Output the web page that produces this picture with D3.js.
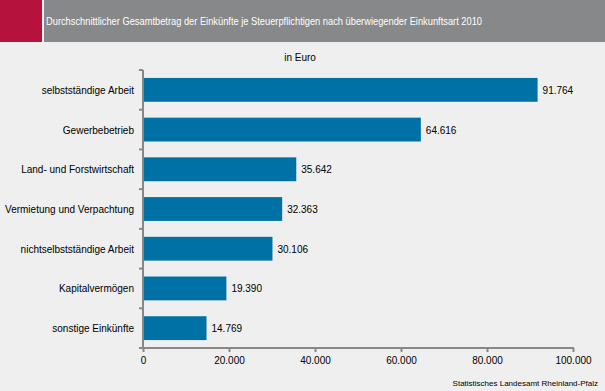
<!DOCTYPE html>
<html><head><meta charset="utf-8">
<script src="https://cdn.jsdelivr.net/npm/d3@7"></script>
<style>
html,body{margin:0;padding:0;background:#eeefee;}
svg{display:block;font-family:"Liberation Sans",Arial,sans-serif;}
</style></head>
<body>
<svg id="c" width="605" height="391"></svg>
<script>
const categories = ["selbstständige Arbeit","Gewerbebetrieb","Land- und Forstwirtschaft","Vermietung und Verpachtung","nichtselbstständige Arbeit","Kapitalvermögen","sonstige Einkünfte"];
const values = [91764, 64616, 35642, 32363, 30106, 19390, 14769];
const xTicks = [0, 20000, 40000, 60000, 80000, 100000];
const title = "Durchschnittlicher Gesamtbetrag der Einkünfte je Steuerpflichtigen nach überwiegender Einkunftsart 2010";
const unit = "in Euro";
const source = "Statistisches Landesamt Rheinland-Pfalz";

const svg = d3.select("#c");
const W = 605, H = 391;
svg.append("rect").attr("width",W).attr("height",H).attr("fill","#eeefee");
svg.append("rect").attr("x",0).attr("y",0).attr("width",42).attr("height",42).attr("fill","#b5123e");
svg.append("rect").attr("x",44).attr("y",0).attr("width",W-44).attr("height",42).attr("fill","#878889");
svg.append("text").attr("x",46).attr("y",25).attr("fill","#fff").attr("font-size",11)
  .attr("textLength",436).attr("lengthAdjust","spacingAndGlyphs").text(title);

const fmt = d3.formatLocale({decimal:",",thousands:".",grouping:[3],currency:["","€"]}).format(",d");

const x = d3.scaleLinear().domain([0,100000]).range([143,573]);
const y = d3.scaleBand().domain(categories).range([70,348]).paddingInner(0.4).paddingOuter(0.2);

svg.append("text").attr("x",300).attr("y",61).attr("text-anchor","middle").attr("font-size",10).attr("fill","#000").text(unit);

// bars
svg.selectAll("rect.bar").data(values).enter().append("rect").attr("class","bar")
  .attr("x",x(0)).attr("y",(d,i)=>y(categories[i])).attr("width",d=>x(d)-x(0)).attr("height",y.bandwidth())
  .attr("fill","#0071a4");
svg.selectAll("text.val").data(values).enter().append("text").attr("class","val")
  .attr("x",d=>x(d)+5).attr("y",(d,i)=>y(categories[i])+y.bandwidth()/2+4)
  .attr("font-size",10).attr("fill","#000").text(d=>fmt(d));

// y axis
const step = y.step();
const gy = svg.append("g");
gy.append("line").attr("x1",143).attr("x2",143).attr("y1",70).attr("y2",348).attr("stroke","#888").attr("stroke-width",2);
const bounds = d3.range(categories.length+1).map(i=>70+i*(278/categories.length));
gy.selectAll("line.t").data(bounds).enter().append("line").attr("x1",139).attr("x2",143)
  .attr("y1",d=>d).attr("y2",d=>d).attr("stroke","#888").attr("stroke-width",2);
gy.selectAll("text").data(categories).enter().append("text")
  .attr("x",134).attr("y",d=>y(d)+y.bandwidth()/2+4).attr("text-anchor","end").attr("font-size",10).attr("fill","#000").text(d=>d);

// x axis
const gx = svg.append("g").attr("transform","translate(0,348)");
const ax = d3.axisBottom(x).tickValues(xTicks).tickSize(4).tickFormat(d=>fmt(d));
gx.call(ax);
gx.select(".domain").attr("stroke","#888").attr("stroke-width",2).attr("d","M142,0H574");
gx.selectAll(".tick line").attr("stroke","#888").attr("stroke-width",2);
gx.selectAll(".tick text").attr("font-size",10).attr("fill","#000").attr("font-family","Liberation Sans, Arial, sans-serif").attr("dy","0.9em");

svg.append("text").attr("x",598).attr("y",386).attr("text-anchor","end").attr("font-size",8).attr("fill","#000").text(source);
</script>
</body></html>
